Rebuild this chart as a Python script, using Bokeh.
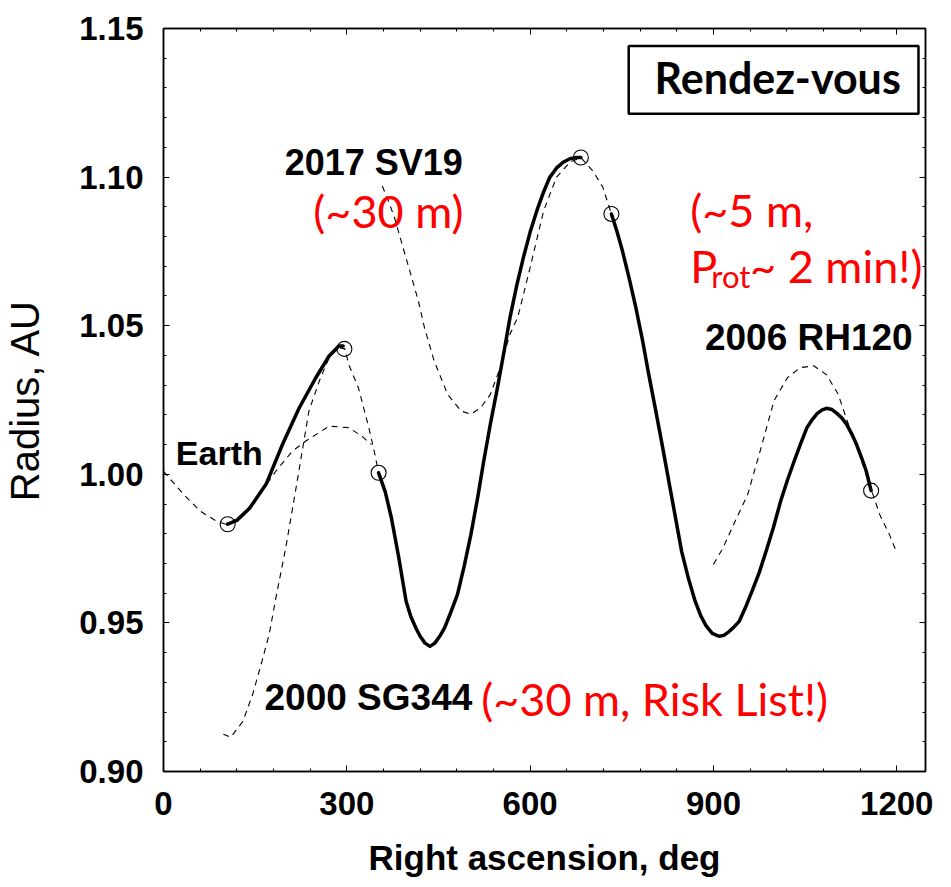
from bokeh.plotting import figure
from bokeh.models import (Range1d, FixedTicker, PrintfTickFormatter, LinearAxis,
                          Label, BoxAnnotation, CustomJSTickFormatter)
from bokeh.embed import file_html
from bokeh.resources import INLINE

# ---------------- data ----------------
x_ticks = [0, 300, 600, 900, 1200]
x_minor = [0, 60, 120, 180, 240, 300, 360, 420, 480, 540, 600, 660, 720, 780,
           840, 900, 960, 1020, 1080, 1140, 1200, 1260]
y_ticks = [0.90, 0.95, 1.00, 1.05, 1.10, 1.15]
y_minor = [0.90, 0.91, 0.92, 0.93, 0.94, 0.95, 0.96, 0.97, 0.98, 0.99, 1.00,
           1.01, 1.02, 1.03, 1.04, 1.05, 1.06, 1.07, 1.08, 1.09, 1.10, 1.11,
           1.12, 1.13, 1.14, 1.15]

# Earth orbit (dashed)
earth_ra = [0, 33, 60, 87, 105, 130, 157, 184, 211, 233, 271, 303, 325, 340]
earth_r = [1.001, 0.9932, 0.9876, 0.9842, 0.983, 0.9865, 0.9932, 1.0011,
           1.0078, 1.0112, 1.0162, 1.0157, 1.0128, 1.0100]

# 2000 SG344 (dashed)
sg344_ra = [98, 110, 130, 146, 161, 173, 185, 200, 217, 228, 238, 255, 271,
            287, 297, 303, 319, 336, 346, 352]
sg344_r = [0.9125, 0.9115, 0.9169, 0.926, 0.937, 0.9462, 0.9596, 0.9752,
           0.9955, 1.009, 1.0213, 1.0314, 1.0393, 1.0426, 1.0422, 1.037,
           1.0291, 1.0157, 1.0067, 1.0005]

# 2017 SV19 (dashed)
sv19_ra = [358, 368, 378, 392, 405, 417, 427, 443, 465, 487, 503, 519, 535,
           551, 567, 580, 600, 622, 643, 665, 683, 703, 719, 733]
sv19_r = [1.097, 1.092, 1.0864, 1.0763, 1.067, 1.0584, 1.0494, 1.0381,
          1.0269, 1.0213, 1.0202, 1.0224, 1.0269, 1.0359, 1.0471, 1.053,
          1.0696, 1.0886, 1.0999, 1.105, 1.1066, 1.102, 1.0966, 1.0876]

# 2006 RH120 (dashed)
rh120_ra = [900, 915, 935, 956, 978, 999, 1021, 1042, 1064, 1085, 1104, 1118,
            1140, 1158, 1172, 1188, 1199]
rh120_r = [0.9697, 0.975, 0.984, 0.9932, 1.009, 1.0247, 1.0325, 1.0359,
           1.0365, 1.0335, 1.027, 1.0185, 1.006, 0.995, 0.9865, 0.9797,
           0.9741]

# Transfer legs (solid)
leg1_ra = [105, 120, 141, 168, 195, 222, 249, 271, 287, 294]
leg1_r = [0.9832, 0.9845, 0.9886, 0.9967, 1.0102, 1.0223, 1.0324, 1.0398,
          1.0432, 1.0432]

leg2_ra = [352, 363, 373, 385, 397, 405, 413, 420, 428, 436, 444, 452, 460,
           470, 481, 492, 503, 514, 524, 535, 546, 557, 567, 578, 589, 600,
           611, 622, 632, 643, 654, 665, 675, 683]
leg2_r = [1.0005, 0.994, 0.9853, 0.972, 0.9573, 0.952, 0.9483, 0.9455,
          0.9432, 0.9421, 0.9432, 0.9455, 0.9483, 0.9535, 0.9595, 0.969,
          0.9797, 0.992, 1.0044, 1.017, 1.0286, 1.041, 1.0527, 1.0635, 1.073,
          1.0815, 1.0887, 1.095, 1.0999, 1.103, 1.105, 1.1062, 1.1066,
          1.1066]

leg3_ra = [733, 742, 751, 762, 773, 784, 794, 805, 816, 824, 832, 840, 848,
           859, 870, 879, 888, 898, 909, 917, 925, 933, 942, 952, 963, 975,
           986, 998, 1010, 1021, 1032, 1043, 1053, 1062, 1070, 1078, 1085,
           1094, 1102, 1110, 1118, 1126, 1134, 1142, 1150, 1158]
leg3_r = [1.0876, 1.0818, 1.0752, 1.066, 1.0561, 1.045, 1.0337, 1.022, 1.010,
          1.001, 0.992, 0.983, 0.974, 0.965, 0.9573, 0.9525, 0.949, 0.9465,
          0.9455, 0.9458, 0.947, 0.9485, 0.9505, 0.955, 0.9606, 0.967, 0.974,
          0.982, 0.991, 0.998, 1.0044, 1.0105, 1.0157, 1.0185, 1.0205, 1.0217,
          1.0222, 1.0218, 1.0205, 1.019, 1.0168, 1.0137, 1.0101, 1.0058,
          1.0011, 0.9945]

# Rendez-vous / departure points (circles)
node_ra = [105, 296, 352, 683, 733, 1158]
node_r = [0.9832, 1.0422, 1.0005, 1.1066, 1.0876, 0.9945]

# ---------------- figure ----------------
BLACK_FONT = "Liberation Sans"
RED_FONT = "Lato"

p = figure(width=935, height=880, output_backend="svg", toolbar_location=None,
           x_range=Range1d(0, 1247), y_range=Range1d(0.90, 1.15),
           min_border_left=155, min_border_right=10, min_border_top=28,
           min_border_bottom=109, background_fill_color="white",
           border_fill_color="white", outline_line_color="black",
           outline_line_width=1.5)
p.xgrid.visible = False
p.ygrid.visible = False

xt = FixedTicker(ticks=x_ticks, minor_ticks=x_minor)
yt = FixedTicker(ticks=y_ticks, minor_ticks=y_minor)


def style_axis(ax, show_labels=True):
    ax.axis_line_color = "black"
    ax.axis_line_width = 1.5
    ax.major_tick_in = 6
    ax.major_tick_out = 0
    ax.minor_tick_in = 3
    ax.minor_tick_out = 0
    ax.major_tick_line_color = "black"
    ax.minor_tick_line_color = "black"
    if not show_labels:
        ax.formatter = CustomJSTickFormatter(code="return '';")
        ax.major_label_standoff = 0
        ax.axis_label_standoff = 0


xa = p.xaxis[0]
xa.ticker = xt
style_axis(xa)
xa.axis_label = "Right ascension, deg"
xa.axis_label_text_font = BLACK_FONT
xa.axis_label_text_font_style = "bold"
xa.axis_label_text_font_size = "35px"
xa.axis_label_text_color = "black"
xa.axis_label_standoff = 20
xa.major_label_text_font = BLACK_FONT
xa.major_label_text_font_style = "bold"
xa.major_label_text_font_size = "33px"
xa.major_label_text_color = "black"
xa.major_label_standoff = 20

ya = p.yaxis[0]
ya.ticker = yt
ya.formatter = PrintfTickFormatter(format="%.2f")
style_axis(ya)
ya.axis_label = "Radius, AU"
ya.axis_label_text_font = BLACK_FONT
ya.axis_label_text_font_style = "normal"
ya.axis_label_text_font_size = "40px"
ya.axis_label_text_color = "black"
ya.axis_label_standoff = 29
ya.major_label_text_font = BLACK_FONT
ya.major_label_text_font_style = "bold"
ya.major_label_text_font_size = "33px"
ya.major_label_text_color = "black"
ya.major_label_standoff = 20

top_ax = LinearAxis(ticker=xt)
style_axis(top_ax, show_labels=False)
p.add_layout(top_ax, "above")
right_ax = LinearAxis(ticker=yt)
style_axis(right_ax, show_labels=False)
p.add_layout(right_ax, "right")

# ---------------- curves ----------------
DASH = "6 5"
for xs, ys in [(earth_ra, earth_r), (sg344_ra, sg344_r), (sv19_ra, sv19_r),
               (rh120_ra, rh120_r)]:
    p.line(xs, ys, line_color="black", line_width=1.1, line_dash=DASH)

for xs, ys in [(leg1_ra, leg1_r), (leg2_ra, leg2_r), (leg3_ra, leg3_r)]:
    p.line(xs, ys, line_color="black", line_width=3.5, line_join="round",
           line_cap="round")

p.scatter(node_ra, node_r, marker="circle", size=15, fill_alpha=0,
          line_color="black", line_width=1.1)

# ---------------- annotations ----------------
box = BoxAnnotation(left=761.3, right=1235.5, bottom=1.1213, top=1.1441,
                    fill_color="white", fill_alpha=1.0, line_color="black",
                    line_alpha=1.0, line_width=2.5)
p.add_layout(box)

DY = 0.0046  # lift so that glyph baselines sit where the reference has them


def label(x, y, text, font, size, color="black", style="normal",
          align="left", baseline="alphabetic"):
    p.add_layout(Label(x=x, y=y + DY, text=text, text_font=font,
                       text_font_size=size, text_color=color,
                       text_font_style=style, text_align=align,
                       text_baseline=baseline))


label(1005.0, 1.1290, "Rendez-vous", RED_FONT, "43px", style="bold",
      align="center")
label(20.2, 1.0027, "Earth", BLACK_FONT, "34px", style="bold")
label(344.0, 1.1003, "2017 SV19", BLACK_FONT, "36px", style="bold",
      align="center")
label(1056.0, 1.0414, "2006 RH120", BLACK_FONT, "37px", style="bold",
      align="center")
label(165.3, 0.9202, "2000 SG344", BLACK_FONT, "37px", style="bold")

label(368.0, 1.0841, "(~30 m)", RED_FONT, "45px", color="red",
      align="center")
label(862.0, 1.0843, "(~5 m,", RED_FONT, "45px", color="red")
label(862.0, 1.0655, "P", RED_FONT, "45px", color="red")
label(896.5, 1.0621, "rot", RED_FONT, "31px", color="red")
label(960.0, 1.0655, "~ 2 min!)", RED_FONT, "45px", color="red")
label(520.0, 0.9198, "(~30 m, Risk List!)", RED_FONT, "45px", color="red")

open("out.html", "w").write(file_html(p, INLINE))
